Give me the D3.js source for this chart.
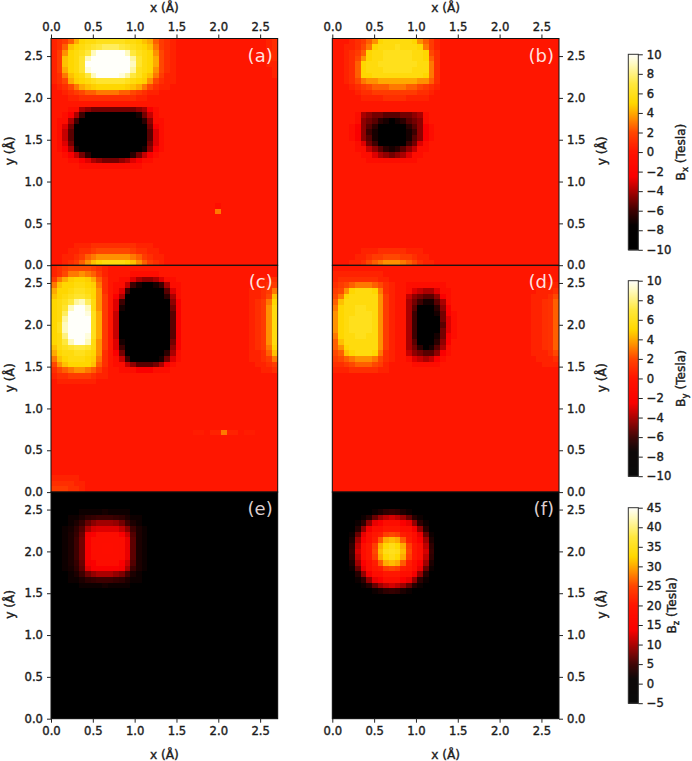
<!DOCTYPE html>
<html><head><meta charset="utf-8">
<script src="https://cdn.jsdelivr.net/npm/d3@7/dist/d3.min.js"></script>
<style>html,body{margin:0;background:#fff}svg{display:block}text{font-family:"DejaVu Sans",sans-serif;fill:#1c1c1c}</style>
</head><body><svg id="c" width="692" height="761"></svg>
<script>
// Each patch: start column, start row, then rows of values in Tesla (the remaining cells read as 0).
const gridSize = 40;
const axisMax = 2.71;
const axisTicks = [0, 0.5, 1, 1.5, 2, 2.5];
const bxyTicks = [-10,-8,-6,-4,-2,0,2,4,6,8,10];
const bzTicks = [-5,0,5,10,15,20,25,30,35,40,45];
const panelLabels = ["(a)","(b)","(c)","(d)","(e)","(f)"];

const panelA = [
 [0,0,[
 [.5,1,1.5,2.5,4,5,5.5,5.5,6,6,6,6,6,5.5,5.5,5,4.5,4,2.5,1.5,1,.5],
 [.5,1,2.5,4.5,5,5.5,6,6.5,7,7.5,7.5,7.5,7,6.5,6,5.5,5,4.5,3,1.5,1,.5],
 [.5,1.5,3.5,5,5.5,6,7,9,10,10,10,10,10,9,7,6,5.5,5,3.5,2,1,.5],
 [.5,1.5,4.5,5,5.5,6.5,9,10,10,10,10,10,10,10,8.5,6.5,5.5,5,4,2,1,.5],
 [.5,1.5,4.5,5,5.5,6.5,10,10,10,10,10,10,10,10,9,6.5,5.5,5,4,2,1,.5],
 [.5,1.5,4,5,5.5,6.5,9.5,10,10,10,10,10,10,10,8.5,6,5.5,5,3.5,2,1,.5],
 [.5,1,3,4.5,5,5.5,7,9,10,10,10,10,9.5,8.5,7,6,5,4.5,3,1.5,.5,.5],
 [.5,1,2,4,4.8,5,5.5,6,6.5,6.5,6.5,6.5,6.5,6,5.5,5,4.8,3.5,2,1,.5,.5],
 [0,.5,1,2,3,4,4.5,4.8,5,5,5,5,5,4.8,4.5,4,3,2,1,.5,.5,0],
 [0,0,.5,1,1.5,2,2.5,2.5,3,3,3,3,2.5,2.5,2,1.5,1,.5,.5,0,0,0],
 [0,0,0,.5,.5,1,1,1,1,1,1,1,1,1,1,.5,.5,0,0,0,0,0]]],
 [1,12,[
 [0,0,-.5,-1.5,-4,-4.5,-5,-5,-5,-5,-5,-5,-5,-5,-4.5,-4,-2,-.5,0],
 [0,-.5,-2,-4,-6,-8,-9,-10,-10,-10,-10,-10,-9,-8,-7,-5,-3.5,-1,0],
 [-.5,-1.5,-4,-6,-9,-10,-10,-10,-10,-10,-10,-10,-10,-10,-9,-6.5,-4.5,-1.5,-.5],
 [-1,-3,-5,-7.5,-10,-10,-10,-10,-10,-10,-10,-10,-10,-10,-10,-8,-5,-2.5,-.5],
 [-1.5,-3.5,-5.5,-8.5,-10,-10,-10,-10,-10,-10,-10,-10,-10,-10,-10,-8.5,-5.5,-3,-.5],
 [-1.5,-3.5,-5.5,-9,-10,-10,-10,-10,-10,-10,-10,-10,-10,-10,-10,-9,-5.5,-3,-.5],
 [-1,-3,-5,-8,-10,-10,-10,-10,-10,-10,-10,-10,-10,-10,-10,-8,-5,-3,-.5],
 [-.5,-2,-4,-7,-10,-10,-10,-10,-10,-10,-10,-10,-10,-10,-10,-7,-4.5,-2,-.5],
 [0,-.5,-2,-3.5,-5,-6.5,-8,-9,-9,-9,-9,-9,-8,-6.5,-5,-3.5,-2,-.5,0],
 [0,0,-.5,-1,-2,-3,-4,-4.5,-5,-5,-5,-4.5,-4,-3,-2,-1,-.5,0,0],
 [0,0,0,0,-.5,-1,-1,-1.5,-1.5,-1.5,-1.5,-1.5,-1,-1,-.5,0,0,0,0]]],
 [2,36,[
 [0,0,.5,.5,.5,1,1,1,1,1,1,1,1,.5,.5,.5,0,0],
 [0,.5,.5,1,1,1.5,2,2,2,2,2,2,1.5,1,1,.5,.5,0],
 [.5,.5,1,1.5,2.5,3,3.5,3.5,3.5,3.5,3.5,3.5,3,2.5,1.5,1,.5,.5],
 [.5,1,1.5,2.5,3.5,4.5,5,5.5,5.5,5.5,5.5,5,4.5,3.5,2.5,1.5,1,.5]]],
 [29,29,[[-.7],[3]]],
 [38,0,[[.5,1],[.5,1],[.5,1],[.5,1],[.5,.5],[0,.5],[0,.5]]]
];

const panelB = [
 [2,0,[
 [0,.5,1,1.5,2.5,3.5,5,5.5,5.5,5.5,5.5,5.5,5,3.5,2.5,1.5,.5],
 [.5,.5,1,2,3,5,5.5,5.5,5.5,6,5.5,5.5,5.5,5,3,1.5,.5],
 [.5,1,1.5,2.5,5,5.5,5.5,6,6,6,6,6,5.5,5.5,5,2,1],
 [.5,1,2,3.5,5,5.5,5.5,6,6,6,6,6,5.5,5.5,5,2.5,1],
 [.5,1,2.5,5,5.5,5.5,6,6,6,6,6,6,6,5.5,5.5,3,1],
 [.5,1,2.5,5,5.5,5.5,5.5,6,6,6,6,6,5.5,5.5,5.5,3,1],
 [.5,1,2.5,5,5,5.5,5.5,5.5,5.5,5.5,5.5,5.5,5.5,5.5,5,3,1],
 [.5,1,2,3,3.5,3.5,4,4,4,4,4,4,4,3.5,3.5,2.5,1],
 [0,.5,1,1.5,2,2.5,2.5,2.5,3,3,3,2.5,2.5,2,1.5,1,.5],
 [0,0,.5,1,1,1.5,1.5,1.5,1.5,1.5,1.5,1.5,1.5,1,1,.5,0],
 [0,0,0,.5,.5,.5,.5,1,1,1,1,.5,.5,.5,.5,0,0]]],
 [3,13,[
 [0,-1,-4,-4.5,-5,-5,-5.5,-5.5,-5.5,-5,-5,-4.5,-4,-1,0],
 [0,-1.5,-4.5,-5,-5.5,-6.5,-7,-7.5,-7,-6.5,-5.5,-5,-4.5,-1.5,0],
 [-.5,-2,-4.5,-5.5,-6.5,-7.5,-8.5,-9,-8.5,-7.5,-6.5,-5.5,-4.5,-2,-.5],
 [-.5,-2.5,-4.5,-6,-7,-8.5,-9.5,-10,-9.5,-8.5,-7,-6,-4.5,-2.5,-.5],
 [-.5,-2,-4.5,-5.5,-7,-8.5,-9.5,-10,-9.5,-8.5,-7,-5.5,-4.5,-2,-.5],
 [0,-1.5,-3,-5,-6,-7.5,-8.5,-9,-8.5,-7.5,-6,-5,-3,-1.5,0],
 [0,-.5,-1.5,-3.5,-4.5,-5.5,-6.5,-7,-6.5,-5.5,-4.5,-3.5,-1.5,-.5,0],
 [0,0,-.5,-1,-3,-4,-4.5,-5,-4.5,-4,-3,-1,-.5,0,0],
 [0,0,0,-.5,-.5,-1,-1.5,-1.5,-1.5,-1,-.5,-.5,0,0,0]]],
 [3,37,[
 [0,0,.5,.5,.5,1,1,1,1,1,.5,.5,.5,0,0],
 [0,.5,.5,1,1.5,1.5,2,2,2,1.5,1.5,1,.5,.5,0],
 [.5,.5,1,2,2.5,3,3.5,3.5,3.5,3,2.5,2,1,.5,.5]]]
];

const panelC = [
 [0,0,[
 [.5,1,1.5,2,2,2,2,1.5,1,.5,0],
 [.5,1,2,3,3,3.5,3,2.5,1.5,.5,0],
 [1.5,3,4,4.8,5,5,4.8,4,2.5,1,.5],
 [3,4.5,5,5,5.5,5.5,5,4.8,3,1,.5],
 [4,5,5,5.5,6,6,5.5,5,3.5,1,.5],
 [4.5,5,5.5,6,6.5,6.5,6,5,3.5,1.5,.5],
 [5,5.5,6,7,8.5,9,7.5,5.5,3.5,1.5,.5],
 [5,5.5,6.5,9,10,10,9,5.5,3.5,1.5,.5],
 [5,5.5,7.5,10,10,10,9.5,6,4,1.5,.5],
 [5,5.5,8.5,10,10,10,10,6,4,1.5,.5],
 [5,6,9,10,10,10,10,6,4,1.5,.5],
 [5,6,9,10,10,10,10,6,4,1.5,.5],
 [5,5.5,8,10,10,10,9.5,6,4,1.5,.5],
 [5,5.5,7,9,10,10,9,5.5,3.5,1.5,.5],
 [4.5,5.5,6,6.5,7,7,6.5,5.5,3.5,1.5,.5],
 [4,5,5.5,5.5,6,6,5.5,5,3.5,1,.5],
 [3,4.5,5,5.5,5.5,5.5,5,4.8,3,1,.5],
 [2,3.5,4.5,5,5,5,5,4.5,2.5,1,.5],
 [1,2,2.5,3,3.5,3.5,3,2.5,1.5,.5,0],
 [.5,1,1,1.5,1.5,1.5,1.5,1,.5,.5,0],
 [0,.5,.5,.5,.5,.5,.5,.5,0,0,0]]],
 [0,37,[[.5,.5,.5,.5,.5,0],[1,1,1,1,.5,.5],[1.5,1.5,1.5,1,1,.5]]],
 [10,1,[
 [0,0,0,0,-.5,-.5,-.5,-.5,-.5,0,0,0,0],
 [0,0,-.5,-1,-3,-4,-4.5,-4.5,-4,-3,-1.5,-.5,0],
 [0,-.5,-1,-3.5,-6,-7,-7.5,-7.5,-7,-6,-4,-1.5,-.5],
 [0,-1,-3,-6,-9,-10,-10,-10,-10,-8,-5.5,-3,-1],
 [0,-2,-4,-8,-10,-10,-10,-10,-10,-9,-6.5,-4,-1.5],
 [0,-3,-6,-9,-10,-10,-10,-10,-10,-10,-7.5,-4.5,-2],
 [0,-3,-7,-10,-10,-10,-10,-10,-10,-10,-8,-5,-2],
 [0,-3.5,-8,-10,-10,-10,-10,-10,-10,-10,-8.5,-5.5,-2.5],
 [0,-3.5,-8,-10,-10,-10,-10,-10,-10,-10,-9,-5.5,-2.5],
 [0,-3.5,-8,-10,-10,-10,-10,-10,-10,-10,-9,-5.5,-2.5],
 [0,-3.5,-8,-10,-10,-10,-10,-10,-10,-10,-9,-5.5,-2.5],
 [0,-3.5,-8,-10,-10,-10,-10,-10,-10,-10,-8.5,-5.5,-2.5],
 [0,-3,-7,-10,-10,-10,-10,-10,-10,-10,-8,-5,-2],
 [0,-3,-6,-9,-10,-10,-10,-10,-10,-10,-7.5,-4.5,-2],
 [0,-2,-5,-8.5,-10,-10,-10,-10,-10,-9,-6.5,-4,-1.5],
 [0,-1,-3.5,-6,-8,-9,-9,-9,-8,-7,-5,-3,-1],
 [0,-.5,-1,-3.5,-4.5,-5.5,-5.5,-5.5,-5,-4,-2.5,-1,0],
 [0,0,-.5,-1,-1.5,-2,-2,-2,-1.5,-1,-.5,0,0]]],
 [35,2,[
 [0,0,.5,.5,1],[0,.5,.5,1,1.5],[.5,.5,1,1.5,3],[.5,.5,1,2,4.5],[.5,1,1.5,3,5],
 [.5,1,1.5,3.5,5.5],[.5,1,1.5,3.5,5.5],[.5,1,1.5,3.5,5.5],[.5,1,1.5,3.5,5.5],[.5,1,1.5,3.5,5.5],
 [.5,1,1.5,3.5,5.5],[.5,1,1.5,3.5,5.5],[.5,1,1.5,3,5],[.5,.5,1,2.5,4.5],[.5,.5,1,1.5,3],
 [0,.5,.5,1,1.5],[0,0,.5,.5,1]]],
 [25,29,[[.3,.4,0,.5,.6,3,.6,.5,0,.4,.3]]]
];

const panelD = [
 [0,1,[
 [.5,.5,.5,.5,.5,.5,.5,.5,.5,0,0],
 [.5,1,1,1,1,1,1,1,.5,.5,0],
 [1,1.5,2,2.5,3,3,3,2.5,2,1,.5],
 [1.5,2,3.5,5,5.5,5.5,5.5,5,3,1,.5],
 [2,3,5,5.5,5.5,5.5,5.5,5.5,3.5,1.5,.5],
 [2.5,4.5,5.5,5.5,5.5,5.5,5.5,5.5,3.5,1.5,.5],
 [3,5,5.5,5.5,6,6,5.5,5.5,3.5,1.5,.5],
 [3.5,5,5.5,5.5,6,6,6,5.5,3.5,1.5,.5],
 [3.5,5,5.5,6,6,6,6,5.5,3.5,1.5,.5],
 [3.5,5,5.5,6,6,6,6,5.5,3.5,1.5,.5],
 [3.5,5,5.5,6,6,6,6,5.5,3.5,1.5,.5],
 [3,5,5.5,5.5,6,6,5.5,5.5,3.5,1.5,.5],
 [2.5,4.5,5.5,5.5,5.5,5.5,5.5,5.5,3.5,1.5,.5],
 [2.5,3.5,5,5.5,5.5,5.5,5.5,5.5,3.5,1.5,.5],
 [2,2.5,4.5,5,5.5,5.5,5.5,5,3,1,.5],
 [1.5,2,2.5,3,3.5,3.5,3.5,3,2,1,.5],
 [1,1,1.5,2,2.5,2.5,2.5,2,1.5,.5,0],
 [.5,.5,.5,1,1,1,1,1,.5,.5,0]]],
 [12,3,[
 [0,-.5,-1,-1,-1,-1,-.5,-.5,0,0],
 [0,-1.5,-3,-3.5,-4,-4,-3,-1,-.5,0],
 [0,-3.5,-4.5,-5,-5.5,-5.5,-4.5,-2.5,-.5,0],
 [0,-4,-5,-6,-7,-7,-5.5,-4,-1,0],
 [0,-4,-5.5,-7.5,-8.5,-8,-6.5,-4.5,-2,0],
 [0,-4,-6,-8,-9.5,-9,-7,-5,-2.5,-.5],
 [0,-4,-6,-8.5,-10,-9.5,-7.5,-5,-3,-.5],
 [0,-4,-6,-8.5,-10,-10,-7.5,-5.5,-3,-.5],
 [0,-4,-6,-8.5,-10,-9.5,-7.5,-5,-3,-.5],
 [0,-4,-6,-8,-9.5,-9,-7,-5,-2.5,-.5],
 [0,-4,-5.5,-7.5,-8.5,-8,-6.5,-4.5,-2,0],
 [0,-4,-5,-6.5,-7.5,-7,-5.5,-4,-1,0],
 [0,-3.5,-4.5,-5,-5.5,-5.5,-4.5,-2.5,-.5,0],
 [0,-1.5,-3,-3.5,-4,-3.5,-2,-.5,0,0],
 [0,0,-.5,-1,-1,-1,-.5,0,0,0]]],
 [35,3,[
 [0,0,.5,.5,.5],[0,.5,.5,.5,1],[.5,.5,.5,1,2],[.5,.5,1,1.2,2.5],[.5,.5,1,1.2,2.5],[.5,.5,1,1.2,2.5],
 [.5,.5,1,1.2,2.5],[.5,.5,1,1.2,2.5],[.5,.5,1,1.2,2.5],[.5,.5,1,1.2,2.5],[.5,.5,1,1.2,2.5],[.5,.5,1,1.2,2.5],
 [.5,.5,.5,1,2],[0,.5,.5,.5,1],[0,0,.5,.5,.5]]]
];

const panelE = [
 [2,3,[
 [1,1,1,1.5,2,2,2,2.5,2,2,2,1.5,1,1,1],
 [1,1.5,2,3,4,4.5,5,5,5,4.5,4,3,2,1.5,1],
 [1,2,3,4.5,7,8.5,9.5,9.5,9.5,9,7.5,5,3,2,1],
 [1.5,2.5,4,6,10,12,12.5,12.5,12.5,12.5,11,8.5,5,3,1.5],
 [1.5,3,4.5,7,13.5,15.5,16.5,17,17,16.5,15,11.5,6,3,1.5],
 [1.5,3,5,7.5,14,16.5,17.5,18,18,17,16,13,6.5,3,1.5],
 [1.5,3,5,7.5,14,17,18,19,18.5,17.5,16,13,6.5,3,1.5],
 [1.5,3,5,7.5,14,17,18,18.5,18.5,17.5,16,13,6.5,3,1.5],
 [1.5,3,5,7.5,14,16.5,17,17.5,17.5,17,16,13,6.5,3,1.5],
 [1.5,3,4.5,7,13.5,15.5,16,16.5,16.5,16,15,11.5,6,3,1.5],
 [1.5,2.5,4,6.5,12.5,14,14.5,14.5,14.5,14.5,13.5,10,5,3,1.5],
 [1,2,3,5,7.5,9,10,10,10,9,8,5.5,3,2,1],
 [1,1.5,2,3,4,4.5,5,5,5,4.5,4,3,2,1.5,1],
 [1,1,1,1.5,2,2,2,2.5,2,2,2,1.5,1,1,1]]]
];

const panelF = [
 [2,2,[
 [0,0,0,.5,.5,.5,1,1,1,1,1,.5,.5,.5,0,0,0],
 [0,0,.5,.5,1,2,3,4,4.5,4,3,2,1,.5,.5,0,0],
 [0,.5,.5,1.5,3.5,7,9.5,11,12,11,9.5,7,3.5,1.5,.5,.5,0],
 [.5,.5,1.5,4,9,13,15.5,17,17,17,15.5,13,9,4,1.5,.5,.5],
 [.5,1,3.5,9,13.5,17,18.5,20,20,20,18.5,17,13.5,9,3.5,1,.5],
 [.5,2,7,13,17,19.5,21,24,25,24,21,19.5,17,13,7,2,.5],
 [1,3,9.5,15.5,18.5,21,26,30,31,30,26,21,18.5,15.5,9.5,3,1],
 [1,4,11,17,20,24,30,33,34,33,30,24,20,17,11,4,1],
 [1,4.5,12,17,20,25,31,34,35,34,31,25,20,17,12,4.5,1],
 [1,4,11,17,20,24,30,33,34,33,30,24,20,17,11,4,1],
 [1,3,9.5,15.5,18.5,21,26,30,31,30,26,21,18.5,15.5,9.5,3,1],
 [.5,2,7,13,17,19.5,21,24,25,24,21,19.5,17,13,7,2,.5],
 [.5,1,3.5,9,13.5,17,18.5,20,20,20,18.5,17,13.5,9,3.5,1,.5],
 [.5,.5,1.5,4,9,13,15.5,17,17,17,15.5,13,9,4,1.5,.5,.5],
 [0,.5,.5,1.5,3.5,7,9.5,11,12,11,9.5,7,3.5,1.5,.5,.5,0],
 [0,0,.5,.5,1,2,3,4,4.5,4,3,2,1,.5,.5,0,0],
 [0,0,0,.5,.5,.5,1,1,1,1,1,.5,.5,.5,0,0,0]]]
];

const colourStops = [-10,-7.5,-6,-4,-2.5,0,2,4,5,7,9,10];
const colourValues = ["#000","#050000","#3c0000","#aa0000","#fa0000","#ff1400","#ff4600","#ffaa00","#ffd700","#ffe83c","#fffabe","#fffffa"];

const svg = d3.select("#c");
const W = 226.7;
const colX = [51, 332.3], rowY = [38.5, 265.4, 492];
const tesla = d3.scaleLinear().domain(colourStops).range(colourValues).clamp(true);
const teslaZ = v => tesla((v - 20) / 2.5);   // -5..45 mapped onto the same colour ramp

const defs = svg.append("defs");
defs.append("filter").attr("id","soft").attr("x","-2%").attr("y","-2%").attr("width","104%").attr("height","104%")
  .append("feGaussianBlur").attr("stdDeviation",0.7);

function styleAxis(g){
  g.select(".domain").remove();
  g.selectAll("line").attr("stroke","#222").attr("stroke-width",1);
  g.selectAll("text").attr("font-size",11.6).style("stroke","#1c1c1c").style("stroke-width",.4);
}

function drawPanel(patches, colour, ci, ri, label, idx){
  const left = colX[ci], top = rowY[ri];
  const grid = d3.range(gridSize).map(() => d3.range(gridSize).map(() => 0));
  patches.forEach(([c0,r0,rows]) => rows.forEach((row,r) => row.forEach((v,c) => { grid[r0+r][c0+c] = v; })));
  const cx = d3.scaleBand().domain(d3.range(gridSize)).range([left,left+W]);
  const ry = d3.scaleBand().domain(d3.range(gridSize)).range([top,top+W]);
  const x = d3.scaleLinear().domain([0,axisMax]).range([left,left+W]);
  const y = d3.scaleLinear().domain([0,axisMax]).range([top+W,top]);

  const clipId = "clip"+idx;
  defs.append("clipPath").attr("id",clipId).append("rect").attr("x",left).attr("y",top).attr("width",W).attr("height",W);
  const holder = svg.append("g").attr("clip-path",`url(#${clipId})`);
  holder.append("rect").attr("x",left).attr("y",top).attr("width",W).attr("height",W).attr("fill",colour(0));
  const cells = holder.append("g").attr("filter","url(#soft)");
  cells.selectAll("g").data(grid).join("g").each(function(row,r){
    d3.select(this).selectAll("rect").data(row).join("rect")
      .attr("shape-rendering","crispEdges")
      .attr("x",(d,c)=>cx(c)).attr("y",ry(r))
      .attr("width",cx.bandwidth()+0.5).attr("height",ry.bandwidth()+0.5)
      .attr("fill",d=>colour(d));
  });

  svg.append("rect").attr("x",left).attr("y",top).attr("width",W).attr("height",W)
    .attr("fill","none").attr("stroke","#111").attr("stroke-width",1);

  const yAxis = ci===0 ? d3.axisLeft(y) : d3.axisRight(y);
  svg.append("g").attr("transform",`translate(${ci===0?left:left+W},0)`)
    .call(yAxis.tickValues(axisTicks).tickFormat(d3.format(".1f")).tickSize(4).tickPadding(4)).call(styleAxis);
  svg.append("text").attr("font-size",12.2).attr("text-anchor","middle").style("stroke","#1c1c1c").style("stroke-width",.4)
    .attr("transform",`translate(${ci===0?14:606},${top+W/2-1}) rotate(-90)`).text("y (Å)");

  if(ri===0 || ri===2){
    const xAxis = ri===0 ? d3.axisTop(x) : d3.axisBottom(x);
    svg.append("g").attr("transform",`translate(0,${ri===0?top:top+W})`)
      .call(xAxis.tickValues(axisTicks).tickFormat(d3.format(".1f")).tickSize(4).tickPadding(4)).call(styleAxis);
    svg.append("text").attr("font-size",12.2).attr("text-anchor","middle").style("stroke","#1c1c1c").style("stroke-width",.4)
      .attr("x",left+W/2).attr("y",ri===0?11.5:759).text("x (Å)");
  }

  svg.append("text").attr("x",left+W-5).attr("y",top+23).attr("text-anchor","end")
    .attr("font-size",18)
    .style("fill",ri===2?"#ddcfcf":"#fff").style("fill-opacity",ri===2?1:.88).text(label);
}

function drawColourbar(top, ticks, colour, axisName, sub, labelX){
  const h = 195.5, left = 628.3, w = 10;
  const dom = d3.extent(ticks);
  const s = d3.scaleLinear().domain(dom).range([top+h,top]);
  const steps = d3.range(0,196).map(i => dom[0]+(dom[1]-dom[0])*i/195);
  svg.append("g").selectAll("rect").data(steps).join("rect")
    .attr("x",left).attr("width",w).attr("y",d=>s(d)-1).attr("height",1.6).attr("fill",d=>colour(d));
  svg.append("rect").attr("x",left).attr("y",top).attr("width",w).attr("height",h)
    .attr("fill","none").attr("stroke","#333").attr("stroke-width",1);
  svg.append("g").attr("transform",`translate(${left+w},0)`)
    .call(d3.axisRight(s).tickValues(ticks).tickSize(4.5).tickPadding(4)).call(styleAxis);
  const t = svg.append("text").attr("font-size",12.2).attr("text-anchor","middle").style("stroke","#1c1c1c").style("stroke-width",.4)
    .attr("transform",`translate(${labelX},${top+h/2}) rotate(-90)`);
  t.append("tspan").text(axisName);
  t.append("tspan").text(sub).attr("font-size",8.5).attr("dy",3);
  t.append("tspan").text(" (Tesla)").attr("dy",-3);
}

[[panelA,tesla,0,0],[panelB,tesla,1,0],[panelC,tesla,0,1],[panelD,tesla,1,1],[panelE,teslaZ,0,2],[panelF,teslaZ,1,2]]
  .forEach(([p,col,ci,ri],i)=>drawPanel(p,col,ci,ri,panelLabels[i],i));

drawColourbar(54.3,bxyTicks,tesla,"B","x",685);
drawColourbar(280.7,bxyTicks,tesla,"B","y",685);
drawColourbar(507.7,bzTicks,teslaZ,"B","z",676);
</script></body></html>
